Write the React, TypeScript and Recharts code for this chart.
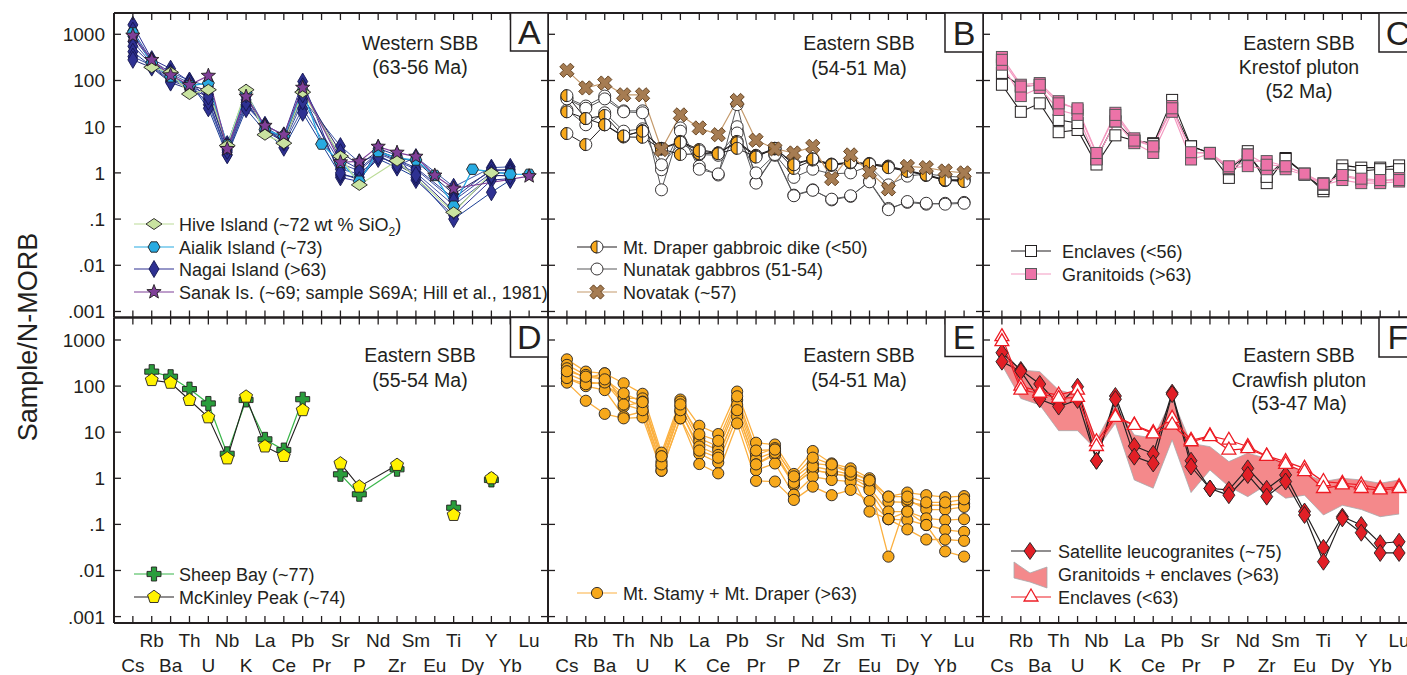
import React from 'react';
import { ComposedChart, Line, Area, XAxis, YAxis } from 'recharts';

// ---------------- data ----------------
const ELEMENTS = ['Cs','Rb','Ba','Th','U','Nb','K','La','Ce','Pb','Pr','Sr','P','Nd','Zr','Sm','Eu','Ti','Dy','Y','Yb','Lu'];
const X_TICKS = ELEMENTS.map((_, i) => i + 1);
const Y_TICKS = [0.001, 0.01, 0.1, 1, 10, 100, 1000];
const Y_TICK_LABELS = ['.001', '.01', '.1', '1', '10', '100', '1000'];

// Panel A – Western SBB
const hiveIsland = [null,193,150,51,63,3.9,63,6.7,4.4,56,null,2.3,0.55,null,1.84,null,null,0.14,null,1.0,null,null];
const aialikIsland = [1070,240,120,77,88,4.0,55,8.6,6.2,60,4.2,1.7,0.66,2.9,2.1,1.9,0.88,0.19,1.2,null,0.94,0.93];
const nagai1 = [1600,290,180,95,40,2.5,30,11,6.5,95,null,0.8,0.65,3.4,2.4,0.7,null,0.12,null,0.7,0.75,null];
const nagai2 = [1200,270,150,100,75,4.2,55,10,5.5,40,null,3.8,1.7,2.5,1.4,2.2,null,0.5,null,1.3,1.35,null];
const nagai3 = [900,250,120,80,60,3.6,45,9,5.0,60,null,2.8,1.5,3.0,2.1,1.8,null,0.35,null,1.1,1.2,null];
const nagai4 = [700,230,140,88,30,2.8,28,10.5,4.2,25,null,1.2,0.95,2.2,1.6,1.0,null,0.2,null,0.85,0.9,null];
const nagai5 = [550,220,110,75,50,3.2,38,8.5,5.8,75,null,2.0,1.2,2.8,1.9,1.3,null,0.28,null,1.2,1.1,null];
const nagai6 = [420,200,95,90,25,2.4,24,8,3.5,20,null,0.9,0.8,2.0,1.3,0.8,null,0.1,null,0.38,0.7,null];
const nagai7 = [330,210,100,70,35,3.0,33,9.5,4.5,35,null,1.6,1.1,2.6,1.8,1.2,null,0.25,null,1.0,1.0,null];
const nagai8 = [280,190,90,65,45,3.8,50,8,4.8,50,null,1.0,0.7,2.3,1.5,0.9,null,0.15,null,0.9,0.85,null];
const sanakIs = [935,280,130,80,127,3.3,45,10.5,6.7,70,null,1.7,1.77,3.7,2.75,2.25,0.88,0.46,null,null,null,0.85];

// Panel B – Eastern SBB 54-51 Ma
const draper1 = [47,15,17.5,6.2,8.2,3.4,4.8,3.2,2.7,4.8,2.4,3.4,1.6,2.0,1.55,1.7,1.6,1.4,1.13,0.92,0.71,0.71];
const draper2 = [21,15,11,6.0,5.9,3.3,2.5,2.6,2.7,4.5,2.3,3.3,1.25,1.9,1.45,1.65,1.5,1.35,1.1,0.88,0.68,0.68];
const draper3 = [7.1,4.1,11,6.3,8.0,3.3,4.6,3.0,2.6,3.4,2.2,3.4,1.5,2.0,1.5,1.7,1.55,1.3,1.08,0.9,0.7,0.65];
const nunatak1 = [42,28,46,22,22,0.43,9.4,1.4,0.9,30,0.62,2.5,0.33,0.43,0.26,0.31,0.66,0.17,0.23,0.21,0.22,0.23];
const nunatak2 = [23,11,20,8,9,1.17,8,1.2,0.95,10,0.6,2.4,0.32,0.42,0.27,0.32,0.64,0.16,0.24,0.22,0.21,0.22];
const nunatak3 = [40,25,40,21,20,1.5,4.5,2.5,2.4,7.3,1.0,2.5,0.8,1.2,0.95,1.0,1.4,0.55,0.85,0.95,0.85,0.8];
const novatak = [166,69,88,49,49,3.2,18,9.4,6.7,37,5.1,3.3,2.7,3.75,0.75,2.45,1.04,0.45,1.38,1.3,1.1,1.0];

// Panel C – Krestof pluton
const krEnclave1 = [81,21,32,7.6,8.5,1.52,6.5,5.0,4.4,25,3.75,2.7,0.78,2.95,0.6,2.1,0.96,0.4,1.45,1.3,1.3,1.45];
const krEnclave2 = [146,74,80,14,12,2.0,13,5,4.2,38,3.75,2.7,1.2,2.5,0.82,2.0,0.95,0.45,1.2,1.1,1.2,1.2];
const krGranitoid1 = [323,81,88,35.6,23,2.6,20,5.6,3.75,28,2.7,2.7,1.27,1.8,1.8,1.39,0.96,0.6,0.86,0.7,0.65,0.77];
const krGranitoid2 = [220,46,69,23,18,1.95,13,4.4,2.7,21,1.95,2.6,1.27,1.4,1.2,1.2,0.9,0.55,0.7,0.6,0.6,0.65];
const krGranitoid3 = [280,74,81,32,25,2.7,18,5.0,3.75,25,2.8,2.7,1.39,2.5,1.5,1.39,0.96,0.58,0.9,0.75,0.7,0.7];

// Panel D – Eastern SBB 55-54 Ma
const sheepBay = [null,206,160,86,42,3.4,50,7.0,4.1,52,null,1.22,0.45,null,1.57,null,null,0.23,null,0.92,null,null];
const mckinleyPeak = [null,135,118,50,21,2.7,59,4.9,3.05,30,null,2.1,0.66,null,1.95,null,null,0.16,null,1.0,null,null];

// Panel E – Mt. Stamy + Mt. Draper
const stamy1 = [380,206,189,115,68,3.6,51,13.8,9.1,76,5.9,5.4,1.24,3.9,2.1,1.64,1.0,0.40,0.49,0.43,0.39,0.41];
const stamy2 = [288,174,147,54,54,2.95,46,7.4,4.9,50,3.2,4.5,1.0,2.1,1.9,1.3,0.9,0.31,0.30,0.26,0.26,0.28];
const stamy3 = [243,147,189,36,46,2.3,36,6.2,4.1,39,2.6,3.8,0.72,1.5,1.28,1.08,0.78,0.02,0.35,0.21,0.21,0.24];
const stamy4 = [189,125,111,54,36,1.8,28,4.9,3.2,28,2.0,3.2,0.72,1.51,1.28,1.08,0.62,0.19,0.19,0.135,0.124,0.13];
const stamy5 = [147,100,82,22,28,1.46,20,3.4,2.2,22,1.5,2.1,0.44,1.08,0.92,0.85,0.56,0.13,0.124,0.097,0.076,0.069];
const stamy6 = [119,48,25,20,21,1.46,20,2.04,1.28,15.5,0.88,0.85,0.34,0.66,0.43,0.56,0.32,0.13,0.078,0.047,0.047,0.044];
const stamy7 = [150,110,120,40,30,2.0,30,4.0,2.8,30,2.0,3.6,0.8,1.8,1.5,1.2,0.19,0.13,0.19,0.097,0.026,0.02];
const stamy8 = [210,160,140,70,45,3.0,40,9,6.5,60,4.0,4.2,1.1,2.8,2.0,1.4,0.9,0.40,0.40,0.3,0.3,0.35];

// Panel F – Crawfish pluton
const leuco1 = [530,224,111,40,97,2.4,61,5.0,3.4,72,2.4,0.6,0.56,1.64,0.59,1.18,0.19,0.031,0.147,0.097,0.039,0.042];
const leuco2 = [339,210,52,36,50,2.4,52,2.95,2.1,67,1.8,0.6,0.43,1.18,0.4,0.85,0.16,0.0155,0.135,0.066,0.024,0.024];
const crEnclave1 = [1180,100,76,64,82,6.2,22.4,14.3,9.8,20,6.7,8.3,6.7,4.9,3.05,2.3,1.64,0.85,0.78,0.72,0.6,0.66];
const crEnclave2 = [920,82,70,54,57,4.9,21,14,9.2,14.3,6.2,8,4.1,4.4,3.0,2.0,1.39,0.6,0.72,0.6,0.56,0.6];
const fieldHigh = [607,223,206,82,64,6.8,39,8.7,7.4,54,5.7,4.85,2.3,3.5,2.7,2.1,1.28,0.85,1.0,0.92,0.78,0.92];
const fieldLow = [287,54,39,10.8,10.8,4.1,15.6,0.92,0.61,6.8,0.49,1.51,0.66,0.4,0.72,0.37,0.43,0.16,0.26,0.21,0.147,0.168];

// ---------------- styling ----------------
const FONT = '"Liberation Sans", Arial, Helvetica, sans-serif';
const INK = '#231f20';
const CW = 1420;
const CH = 675;
const TL = 7;
const COLS: [number, number][] = [[114, 548], [548, 983], [983, 1418]];
const ROWS: [number, number][] = [[13, 317.5], [317.5, 623]];
const DOMAINS: [number, number][] = [[0.000741, 2890], [0.000726, 3076]];

type ShapeFn = (cx: number, cy: number, k: string) => React.ReactElement;

const diamond = (w: number, h: number, fill: string, stroke: string): ShapeFn => (cx, cy, k) => (
  <path key={k} d={`M${cx} ${cy - h / 2}L${cx + w / 2} ${cy}L${cx} ${cy + h / 2}L${cx - w / 2} ${cy}Z`} fill={fill} stroke={stroke} strokeWidth={0.9} />
);
const regular = (n: number, r: number, rot: number, fill: string, stroke: string, sw = 0.9): ShapeFn => (cx, cy, k) => {
  const pts: string[] = [];
  for (let i = 0; i < n; i++) {
    const a = rot + (i * 2 * Math.PI) / n;
    pts.push(`${cx + r * Math.cos(a)},${cy + r * Math.sin(a)}`);
  }
  return <polygon key={k} points={pts.join(' ')} fill={fill} stroke={stroke} strokeWidth={sw} />;
};
const star = (R: number, r: number, fill: string, stroke: string): ShapeFn => (cx, cy, k) => {
  const pts: string[] = [];
  for (let i = 0; i < 10; i++) {
    const a = -Math.PI / 2 + (i * Math.PI) / 5;
    const rr = i % 2 === 0 ? R : r;
    pts.push(`${cx + rr * Math.cos(a)},${cy + rr * Math.sin(a)}`);
  }
  return <polygon key={k} points={pts.join(' ')} fill={fill} stroke={stroke} strokeWidth={0.9} />;
};
const crossShape = (a: number, b: number, rot: number, fill: string, stroke: string): ShapeFn => (cx, cy, k) => {
  const base = [[b, a], [b, b], [a, b], [a, -b], [b, -b], [b, -a], [-b, -a], [-b, -b], [-a, -b], [-a, b], [-b, b], [-b, a]];
  const c = Math.cos(rot), s = Math.sin(rot);
  const pts = base.map(([x, y]) => `${cx + x * c - y * s},${cy + x * s + y * c}`).join(' ');
  return <polygon key={k} points={pts} fill={fill} stroke={stroke} strokeWidth={0.9} />;
};
const circle = (r: number, fill: string, stroke: string): ShapeFn => (cx, cy, k) => (
  <circle key={k} cx={cx} cy={cy} r={r} fill={fill} stroke={stroke} strokeWidth={0.9} />
);
const halfCircle = (r: number, fill: string, stroke: string): ShapeFn => (cx, cy, k) => (
  <g key={k}>
    <circle cx={cx} cy={cy} r={r} fill="#fff" stroke={stroke} strokeWidth={0.9} />
    <path d={`M${cx} ${cy - r}A${r} ${r} 0 0 0 ${cx} ${cy + r}Z`} fill={fill} stroke={stroke} strokeWidth={0.9} />
  </g>
);
const square = (s: number, fill: string, stroke: string): ShapeFn => (cx, cy, k) => (
  <rect key={k} x={cx - s / 2} y={cy - s / 2} width={s} height={s} fill={fill} stroke={stroke} strokeWidth={1} />
);

const SH = {
  hive: diamond(16, 11, '#c9e3a0', INK),
  aialik: regular(6, 6, 0, '#27aae1', INK),
  nagai: diamond(10, 17, '#2e3192', '#141650'),
  sanak: star(7.5, 3.2, '#7f3f98', INK),
  draper: halfCircle(6, '#f7a81b', INK),
  nunatak: circle(6, '#fff', INK),
  novatak: crossShape(7.5, 2.6, Math.PI / 4, '#a67c52', '#5c3a17'),
  enclave: square(11, '#fff', INK),
  granitoid: square(11, '#ec73a8', '#58595b'),
  sheep: crossShape(7, 2.6, 0, '#2a9d3c', INK),
  mckinley: regular(5, 6.8, -Math.PI / 2, '#fff200', INK),
  stamy: circle(5.6, '#f7a81b', INK),
  leuco: diamond(12, 17, '#e21f26', INK),
  triangle: regular(3, 8, -Math.PI / 2, '#fff', '#ed1c24', 1.3),
};

const rows = (cols: Record<string, (number | null)[]>) =>
  ELEMENTS.map((el, i) => {
    const r: any = { x: i + 1, el };
    Object.keys(cols).forEach((k) => { r[k] = cols[k][i]; });
    return r;
  });

const only = (arr: (number | null)[], keep: string[]) => arr.map((v, i) => (keep.includes(ELEMENTS[i]) ? v : null));

const dotFor = (shape: ShapeFn, name: string) => (p: any) => {
  const k = `${name}-${p.index}`;
  if (p.value == null || p.cx == null || p.cy == null || Number.isNaN(p.cy)) return <g key={k} />;
  return shape(p.cx, p.cy, k);
};

const series = (key: string, stroke: string, shape: ShapeFn | null, w = 1, connect = true) => (
  <Line
    key={key}
    xAxisId="b"
    yAxisId="l"
    type="linear"
    dataKey={key}
    stroke={stroke}
    strokeWidth={w}
    dot={shape ? dotFor(shape, key) : false}
    activeDot={false}
    connectNulls={connect}
    isAnimationActive={false}
    legendType="none"
  />
);

// ---------------- ticks ----------------
const bottomTick = (show: boolean) => (p: any) => {
  const { x, y, payload } = p;
  const v = payload.value as number;
  return (
    <g>
      <line x1={x} x2={x} y1={y} y2={y - TL} stroke={INK} strokeWidth={1.3} />
      {show && (
        <text x={x} y={v % 2 === 0 ? y + 24 : y + 49} textAnchor="middle" fontSize={19} fontFamily={FONT} fill={INK}>
          {ELEMENTS[v - 1]}
        </text>
      )}
    </g>
  );
};
const topTick = (p: any) => (
  <line x1={p.x} x2={p.x} y1={p.y} y2={p.y + TL} stroke={INK} strokeWidth={1.3} />
);
const leftTick = (show: boolean) => (p: any) => {
  const { x, y, payload } = p;
  const idx = Y_TICKS.findIndex((t) => Math.abs(Math.log10(t) - Math.log10(payload.value)) < 1e-6);
  return (
    <g>
      <line x1={x} x2={x + TL} y1={y} y2={y} stroke={INK} strokeWidth={1.3} />
      {show && (
        <text x={x - 9} y={y + 7} textAnchor="end" fontSize={19} fontFamily={FONT} fill={INK}>
          {Y_TICK_LABELS[idx]}
        </text>
      )}
    </g>
  );
};
const rightTick = (p: any) => (
  <line x1={p.x} x2={p.x - TL} y1={p.y} y2={p.y} stroke={INK} strokeWidth={1.3} />
);

const AXIS_LINE = { stroke: INK, strokeWidth: 2 };

function Panel({ col, row, data, yLabels, xLabels, children }: any) {
  const [x0, x1] = COLS[col];
  const [y0, y1] = ROWS[row];
  const domain = DOMAINS[row];
  return (
    <div style={{ position: 'absolute', left: 0, top: 0 }}>
      <ComposedChart width={CW} height={CH} data={data} margin={{ top: y0 - 1, left: x0 - 1, right: CW - x1 - 1, bottom: CH - y1 - 1 }}>
        <XAxis xAxisId="b" type="number" dataKey="x" domain={[0, 23]} ticks={X_TICKS} interval={0} allowDataOverflow
          height={1} tickSize={0} tickMargin={0} tickLine={false} axisLine={AXIS_LINE} tick={bottomTick(xLabels)} />
        <XAxis xAxisId="t" orientation="top" type="number" dataKey="x" domain={[0, 23]} ticks={X_TICKS} interval={0} allowDataOverflow
          height={1} tickSize={0} tickMargin={0} tickLine={false} axisLine={AXIS_LINE} tick={topTick} />
        <YAxis yAxisId="l" type="number" scale="log" domain={domain} ticks={Y_TICKS} interval={0} allowDataOverflow
          width={1} tickSize={0} tickMargin={0} tickLine={false} axisLine={AXIS_LINE} tick={leftTick(yLabels)} />
        <YAxis yAxisId="r" orientation="right" type="number" scale="log" domain={domain} ticks={Y_TICKS} interval={0} allowDataOverflow
          width={1} tickSize={0} tickMargin={0} tickLine={false} axisLine={AXIS_LINE} tick={rightTick} />
        {children}
      </ComposedChart>
    </div>
  );
}

const NAGAI_COLORS = ['#2e3192', '#3953a4', '#262262', '#4355a5', '#2b3990', '#1c3f94', '#3a4ba0', '#262b7a'];

const dataA = rows({ hive: hiveIsland, aialik: aialikIsland, n1: nagai1, n2: nagai2, n3: nagai3, n4: nagai4, n5: nagai5, n6: nagai6, n7: nagai7, n8: nagai8, sanak: sanakIs });
const dataB = rows({ d1: draper1, d2: draper2, d3: draper3, u1: nunatak1, u2: nunatak2, u3: nunatak3, nov: novatak });
const dataC = rows({ e1: krEnclave1, e2: krEnclave2, g1: krGranitoid1, g2: krGranitoid2, g3: krGranitoid3 });
const dataD = rows({ sheep: sheepBay, sheepPZ: only(sheepBay, ['P', 'Zr']), mck: mckinleyPeak, mckPZ: only(mckinleyPeak, ['P', 'Zr']) });
const dataE = rows({ s1: stamy1, s2: stamy2, s3: stamy3, s4: stamy4, s5: stamy5, s6: stamy6, s7: stamy7, s8: stamy8 });
const dataF = rows({ lo: fieldLow, hi: fieldHigh, l1: leuco1, l2: leuco2, t1: crEnclave1, t2: crEnclave2 });

// ---------------- overlay ----------------
const txt = { fontFamily: FONT, fill: INK } as const;

function LegendRow({ x1, x2, mx, y, tx, stroke, shape, children, swatch }: any) {
  return (
    <g>
      {swatch ? swatch : <line x1={x1} x2={x2} y1={y} y2={y} stroke={stroke} strokeWidth={1.2} />}
      {shape && shape(mx, y, `lg-${tx}-${y}`)}
      <text x={tx} y={y + 6.5} fontSize={18} {...txt}>{children}</text>
    </g>
  );
}

function Title({ cx, y, lines }: any) {
  return (
    <g>
      {lines.map((l: string, i: number) => (
        <text key={i} x={cx} y={y[i] + 7} textAnchor="middle" fontSize={19.5} {...txt}>{l}</text>
      ))}
    </g>
  );
}

function LetterBox({ x, y, w, h, ch }: any) {
  return (
    <g>
      <rect x={x} y={y} width={w} height={h} fill="#fff" stroke={INK} strokeWidth={1.5} />
      <text x={x + w / 2} y={y + h / 2 + 12} textAnchor="middle" fontSize={34} {...txt}>{ch}</text>
    </g>
  );
}

export default function App() {
  return (
    <div style={{ position: 'absolute', left: 0, top: 0, width: 1407, height: 675, overflow: 'hidden', background: '#fff' }}>
      {/* A */}
      <Panel col={0} row={0} data={dataA} yLabels={true} xLabels={false}>
        {['n1', 'n2', 'n3', 'n4', 'n5', 'n6', 'n7', 'n8'].map((k, i) => series(k, NAGAI_COLORS[i], SH.nagai, 1))}
        {series('aialik', '#27aae1', SH.aialik, 1.3)}
        {series('hive', '#bcdc98', SH.hive, 1.2)}
        {series('sanak', '#7f3f98', SH.sanak, 1.2)}
      </Panel>
      {/* B */}
      <Panel col={1} row={0} data={dataB} yLabels={false} xLabels={false}>
        {series('u1', '#58595b', SH.nunatak, 1)}
        {series('u2', '#58595b', SH.nunatak, 1)}
        {series('u3', '#58595b', SH.nunatak, 1)}
        {series('d1', INK, SH.draper, 1)}
        {series('d2', INK, SH.draper, 1)}
        {series('d3', INK, SH.draper, 1)}
        {series('nov', '#c49a6c', SH.novatak, 1.2)}
      </Panel>
      {/* C */}
      <Panel col={2} row={0} data={dataC} yLabels={false} xLabels={false}>
        {series('e1', INK, SH.enclave, 1.1)}
        {series('e2', INK, SH.enclave, 1.1)}
        {series('g1', '#f49ac1', SH.granitoid, 1.2)}
        {series('g2', '#f49ac1', SH.granitoid, 1.2)}
        {series('g3', '#f49ac1', SH.granitoid, 1.2)}
      </Panel>
      {/* D */}
      <Panel col={0} row={1} data={dataD} yLabels={true} xLabels={true}>
        {series('sheepPZ', '#39b54a', null, 1.2)}
        {series('sheep', '#39b54a', SH.sheep, 1.2, false)}
        {series('mckPZ', INK, null, 1.1)}
        {series('mck', INK, SH.mckinley, 1.1, false)}
      </Panel>
      {/* E */}
      <Panel col={1} row={1} data={dataE} yLabels={false} xLabels={true}>
        {['s1', 's2', 's3', 's4', 's5', 's6', 's7', 's8'].map((k) => series(k, '#fbb040', SH.stamy, 1.3))}
      </Panel>
      {/* F */}
      <Panel col={2} row={1} data={dataF} yLabels={false} xLabels={true}>
        <Area xAxisId="b" yAxisId="l" type="linear" dataKey={(d: any) => [d.lo, d.hi]} fill="#f4898b" fillOpacity={1}
          stroke="#a7a9ac" strokeWidth={0.8} dot={false} activeDot={false} isAnimationActive={false} legendType="none" />
        {series('l1', INK, SH.leuco, 1.2)}
        {series('l2', INK, SH.leuco, 1.2)}
        {series('t1', '#ed1c24', SH.triangle, 1.2)}
        {series('t2', '#ed1c24', SH.triangle, 1.2)}
      </Panel>

      <svg width={1407} height={675} style={{ position: 'absolute', left: 0, top: 0, pointerEvents: 'none' }}>
        <text x={37} y={337} transform="rotate(-90 37 337)" textAnchor="middle" fontSize={27} {...txt}>Sample/N-MORB</text>

        <Title cx={420} y={[43, 67]} lines={['Western SBB', '(63-56 Ma)']} />
        <Title cx={859} y={[43, 68]} lines={['Eastern SBB', '(54-51 Ma)']} />
        <Title cx={1299} y={[43, 67, 91]} lines={['Eastern SBB', 'Krestof pluton', '(52 Ma)']} />
        <Title cx={420} y={[355, 380]} lines={['Eastern SBB', '(55-54 Ma)']} />
        <Title cx={859} y={[355, 380]} lines={['Eastern SBB', '(54-51 Ma)']} />
        <Title cx={1299} y={[355, 380, 403]} lines={['Eastern SBB', 'Crawfish pluton', '(53-47 Ma)']} />

        <LetterBox x={510.5} y={13} w={37.5} h={38} ch="A" />
        <LetterBox x={945} y={13} w={38} h={39} ch="B" />
        <LetterBox x={1379} y={13} w={38} h={39} ch="C" />
        <LetterBox x={510.5} y={317.5} w={37.5} h={39.5} ch="D" />
        <LetterBox x={945} y={317.5} w={38} h={39} ch="E" />
        <LetterBox x={1379} y={317.5} w={38} h={39.5} ch="F" />

        {/* legend A */}
        <LegendRow x1={134} x2={174} mx={154} y={224} tx={179} stroke="#bcdc98" shape={SH.hive}>
          Hive Island (~72 wt % SiO<tspan fontSize={12} dy={5}>2</tspan><tspan dy={-5}>)</tspan>
        </LegendRow>
        <LegendRow x1={134} x2={174} mx={154} y={247} tx={179} stroke="#27aae1" shape={SH.aialik}>Aialik Island (~73)</LegendRow>
        <LegendRow x1={134} x2={174} mx={154} y={269} tx={179} stroke="#2e3192" shape={SH.nagai}>Nagai Island (&gt;63)</LegendRow>
        <LegendRow x1={134} x2={174} mx={154} y={292} tx={179} stroke="#7f3f98" shape={SH.sanak}>Sanak Is. (~69; sample S69A; Hill et al., 1981)</LegendRow>

        {/* legend B */}
        <LegendRow x1={577} x2={617} mx={597} y={247} tx={623} stroke={INK} shape={SH.draper}>Mt. Draper gabbroic dike (&lt;50)</LegendRow>
        <LegendRow x1={577} x2={617} mx={597} y={269} tx={623} stroke="#58595b" shape={SH.nunatak}>Nunatak gabbros (51-54)</LegendRow>
        <LegendRow x1={577} x2={617} mx={597} y={292} tx={623} stroke="#c49a6c" shape={SH.novatak}>Novatak (~57)</LegendRow>

        {/* legend C */}
        <LegendRow x1={1011} x2={1051} mx={1031} y={251} tx={1062} stroke={INK} shape={SH.enclave}>Enclaves (&lt;56)</LegendRow>
        <LegendRow x1={1011} x2={1051} mx={1031} y={274} tx={1062} stroke="#f49ac1" shape={SH.granitoid}>Granitoids (&gt;63)</LegendRow>

        {/* legend D */}
        <LegendRow x1={134} x2={174} mx={154} y={574} tx={179} stroke="#39b54a" shape={SH.sheep}>Sheep Bay (~77)</LegendRow>
        <LegendRow x1={134} x2={174} mx={154} y={597} tx={179} stroke={INK} shape={SH.mckinley}>McKinley Peak (~74)</LegendRow>

        {/* legend E */}
        <LegendRow x1={577} x2={617} mx={597} y={593} tx={623} stroke="#fbb040" shape={SH.stamy}>Mt. Stamy + Mt. Draper (&gt;63)</LegendRow>

        {/* legend F */}
        <LegendRow x1={1011} x2={1051} mx={1030} y={551} tx={1058} stroke={INK} shape={SH.leuco}>Satellite leucogranites (~75)</LegendRow>
        <LegendRow y={574} tx={1058} shape={null}
          swatch={<polygon points="1014,562 1030,573 1047,567 1047,588 1030,582 1014,578" fill="#f4898b" stroke="#a7a9ac" strokeWidth={0.8} />}>
          Granitoids + enclaves (&gt;63)
        </LegendRow>
        <LegendRow x1={1011} x2={1051} mx={1031} y={597} tx={1058} stroke="#ed1c24" shape={SH.triangle}>Enclaves (&lt;63)</LegendRow>
      </svg>
    </div>
  );
}
